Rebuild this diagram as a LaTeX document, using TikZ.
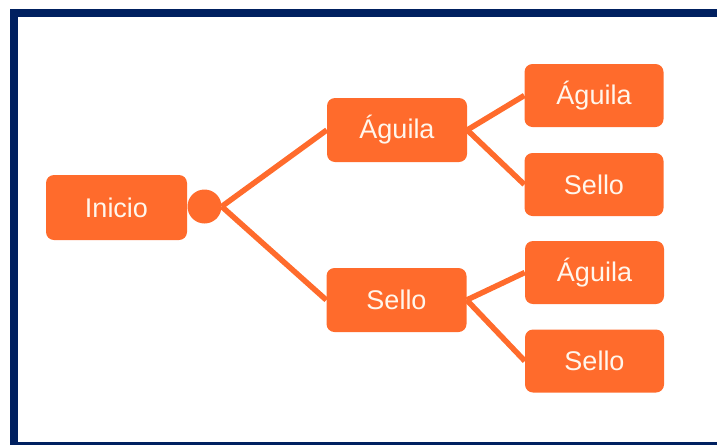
\documentclass[tikz,border=0pt]{standalone}
\usepackage{fontspec}
\setmainfont{Liberation Sans}
\usetikzlibrary{backgrounds}
\definecolor{frameblue}{HTML}{002060}
\definecolor{boxorange}{HTML}{FF6B2C}
\definecolor{boxtext}{HTML}{FFF6EC}
\tikzset{
  choice/.style={fill=boxorange, rounded corners=8pt, inner sep=0pt,
    minimum width=140pt, minimum height=64pt, text=boxtext,
    font=\fontsize{27}{32}\selectfont},
  leaf/.style={choice, minimum width=139pt, minimum height=63pt},
  joint/.style={circle, fill=boxorange, inner sep=0pt, minimum size=34pt},
  branch/.style={draw=boxorange, line width=5.5pt}
}
\begin{document}
\begin{tikzpicture}[x=1pt, y=-1pt]
  \useasboundingbox (0,0) rectangle (717,445);
  % frame
  \fill[frameblue] (10,9) rectangle (717,17);
  \fill[frameblue] (10,9) rectangle (18,445);
  \fill[frameblue] (10,442) rectangle (717,445);

  % tree nodes
  \node[choice, minimum width=141pt, minimum height=65pt] (inicio) at (116.5,207.5) {Inicio};
  \node[joint] (dot) at (204.5,206.5) {};
  \node[choice] (a1) at (397,130) {Águila};
  \node[choice] (s1) at (396.5,300) {Sello};
  \node[leaf] (a2) at (594,95.5) {Águila};
  \node[leaf] (s2) at (594,184.5) {Sello};
  \node[leaf] (a3) at (594.5,272.5) {Águila};
  \node[leaf] (s3) at (594.5,361) {Sello};

  % branches
  \begin{scope}[on background layer]
    \draw[branch] (dot.east) -- (a1.west);
    \draw[branch] (dot.east) -- (s1.west);
    \draw[branch] (a1.east) -- (a2.west);
    \draw[branch] (a1.east) -- (s2.west);
    \draw[branch] (s1.east) -- (a3.west);
    \draw[branch] (s1.east) -- (s3.west);
  \end{scope}
\end{tikzpicture}
\end{document}
